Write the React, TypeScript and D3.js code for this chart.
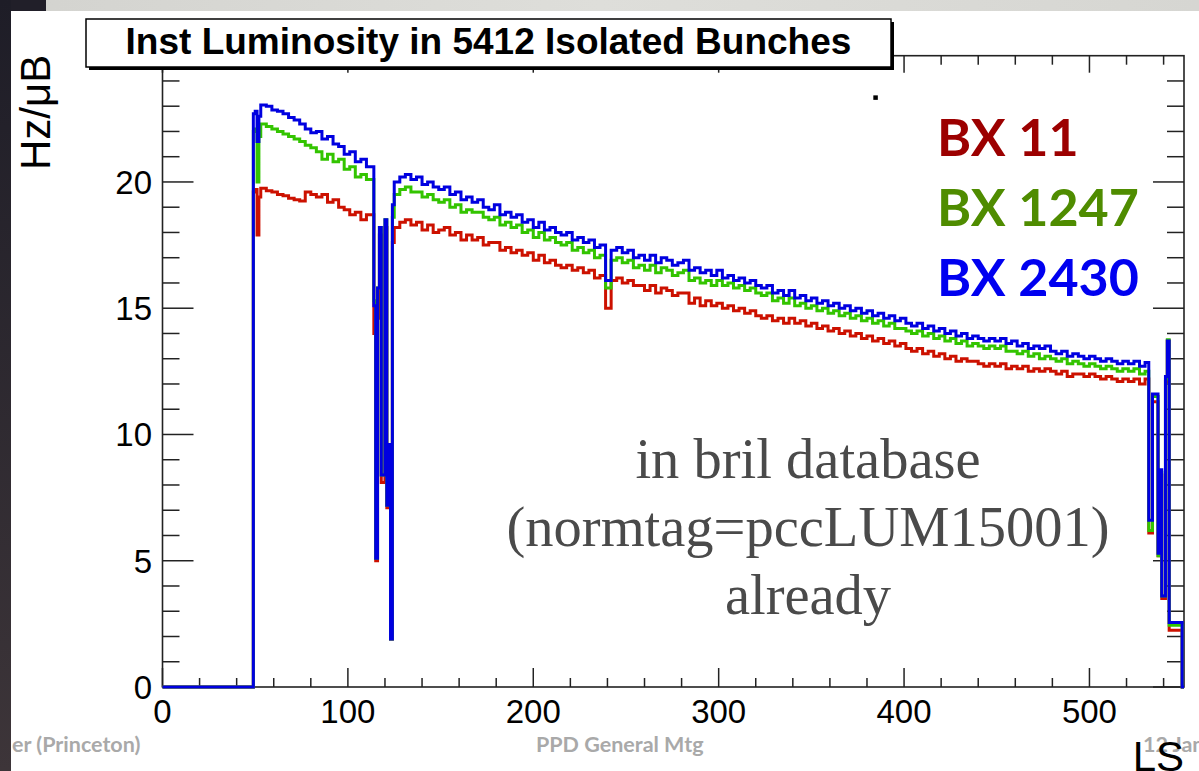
import React from 'react';
import * as d3 from 'd3';

const W = 1199;
const H = 771;

// ---------- data (LS bin left edges & per-bunch inst. luminosity, Hz/µB) ----------
const leadEdges = [0, 49, 50, 51, 52];
const runAEdges = d3.range(53, 111, 3); // 53..110 (last block ends at 114)
const gapEdges = [114, 115, 116, 117, 118, 119, 120, 121, 122, 123, 124];
const mainEdges = d3.range(125, 531, 3); // 125..530 (last block ends at 532)
const endEdges = [532, 534, 537, 538, 539, 541, 542, 543, 550];
const lastEdge = 551;

const blueLead = [0, 22.7, 22.8, 21.6, 22.6];
const greenLead = [0, 22.0, 22.1, 20.0, 21.8];
const redLead = [0, 19.6, 19.7, 17.9, 19.4];

const blueRunA = [23.05, 23.0, 22.85, 22.8, 22.7, 22.55, 22.45, 22.3, 22.1, 21.95, 22.0, 21.7, 21.8, 21.5, 21.4, 21.1, 21.2, 20.8, 20.9, 20.6];
const greenRunA = [22.3, 22.2, 22.1, 22.0, 21.9, 21.8, 21.7, 21.6, 21.45, 21.35, 21.2, 20.9, 21.1, 20.8, 20.9, 20.5, 20.6, 20.2, 20.3, 20.1];
const redRunA = [19.75, 19.65, 19.6, 19.5, 19.45, 19.35, 19.3, 19.25, 19.6, 19.5, 19.4, 19.5, 19.2, 19.3, 19.0, 18.9, 18.7, 18.8, 18.5, 18.7];

const blueGap = [15.1, 5.1, 15.8, 18.2, 8.4, 8.4, 18.5, 7.2, 9.6, 1.9, 19.1];
const greenGap = [15.3, 5.1, 15.8, 18.2, 8.4, 8.4, 18.5, 7.2, 9.6, 1.9, 18.6];
const redGap = [14.0, 5.0, 14.6, 17.9, 8.1, 8.1, 18.2, 7.1, 9.4, 1.9, 17.6];

const blueMain = [
  20.0, 20.2, 20.3, 20.1, 20.2, 19.9, 20.0, 19.8, 19.7, 19.8,
  19.5, 19.6, 19.3, 19.4, 19.2, 19.3, 19.0, 18.9, 19.1, 18.7,
  18.8, 18.6, 18.7, 18.4, 18.5, 18.2, 18.4, 18.1, 18.2, 18.0,
  17.9, 18.0, 17.7, 17.8, 17.6, 17.7, 17.4, 17.5, 16.1, 17.3,
  17.4, 17.2, 17.3, 17.0, 17.1, 16.9, 17.1, 16.8, 17.0, 16.9,
  16.7, 16.8, 16.9, 16.5, 16.6, 16.4, 16.5, 16.3, 16.5, 16.2,
  16.3, 16.1, 16.2, 16.0, 16.1, 15.9, 15.8, 15.9, 15.6, 15.7,
  15.5, 15.7, 15.4, 15.5, 15.3, 15.4, 15.2, 15.3, 15.1, 15.2,
  15.0, 15.1, 14.9, 15.0, 14.8, 14.9, 14.7, 14.8, 14.6, 14.7,
  14.5, 14.6, 14.4, 14.3, 14.4, 14.2, 14.3, 14.1, 14.2, 14.0,
  14.1, 13.9, 14.0, 13.8, 13.9, 13.8, 13.7, 13.8, 13.7, 13.8,
  13.6, 13.7, 13.5, 13.6, 13.4, 13.5, 13.4, 13.5, 13.3, 13.2,
  13.3, 13.1, 13.2, 13.1, 13.0, 13.1, 13.0, 12.9, 13.0, 12.9,
  12.8, 12.9, 12.8, 12.9, 12.7, 12.85,
];
const greenMain = [
  19.5, 19.7, 19.8, 19.6, 19.6, 19.4, 19.5, 19.3, 19.2, 19.3,
  19.0, 19.1, 18.8, 18.9, 18.8, 18.8, 18.6, 18.5, 18.6, 18.3,
  18.4, 18.2, 18.3, 18.0, 18.1, 17.8, 18.0, 17.7, 17.8, 17.6,
  17.5, 17.6, 17.3, 17.4, 17.2, 17.3, 17.0, 17.1, 15.8, 16.9,
  17.0, 16.8, 16.9, 16.6, 16.7, 16.5, 16.7, 16.4, 16.6, 16.5,
  16.3, 16.4, 16.5, 16.1, 16.2, 16.0, 16.1, 15.9, 16.1, 15.9,
  16.0, 15.8, 15.9, 15.7, 15.8, 15.6, 15.5, 15.6, 15.3, 15.4,
  15.2, 15.4, 15.1, 15.2, 15.0, 15.1, 14.9, 15.0, 14.8, 14.9,
  14.7, 14.8, 14.6, 14.7, 14.5, 14.6, 14.4, 14.5, 14.3, 14.4,
  14.2, 14.2, 14.1, 14.0, 14.1, 13.9, 14.0, 13.8, 13.9, 13.7,
  13.8, 13.6, 13.7, 13.5, 13.6, 13.5, 13.4, 13.5, 13.4, 13.5,
  13.3, 13.3, 13.2, 13.3, 13.1, 13.2, 13.0, 13.1, 13.0, 12.9,
  13.0, 12.8, 12.9, 12.8, 12.7, 12.8, 12.7, 12.6, 12.7, 12.6,
  12.5, 12.6, 12.5, 12.6, 12.4, 12.5,
];
const redMain = [
  18.2, 18.4, 18.5, 18.3, 18.4, 18.1, 18.3, 18.0, 18.1, 18.2,
  17.9, 18.0, 17.7, 17.9, 17.7, 17.8, 17.5, 17.6, 17.6, 17.3,
  17.4, 17.2, 17.3, 17.1, 17.2, 16.9, 17.1, 16.8, 16.9, 16.7,
  16.6, 16.7, 16.5, 16.6, 16.4, 16.5, 16.2, 16.3, 15.0, 16.1,
  16.2, 16.0, 16.1, 15.9, 15.9, 15.7, 15.9, 15.6, 15.8, 15.7,
  15.5, 15.6, 15.6, 15.2, 15.4, 15.1, 15.3, 15.1, 15.2, 15.0,
  15.1, 14.9, 15.0, 14.8, 14.9, 14.7, 14.6, 14.7, 14.5, 14.6,
  14.4, 14.6, 14.4, 14.5, 14.3, 14.4, 14.2, 14.3, 14.1, 14.2,
  14.0, 14.1, 13.9, 14.0, 13.8, 13.9, 13.7, 13.8, 13.6, 13.7,
  13.5, 13.6, 13.4, 13.3, 13.4, 13.2, 13.3, 13.1, 13.2, 13.0,
  13.1, 12.9, 13.0, 12.9, 12.9, 12.8, 12.7, 12.8, 12.7, 12.8,
  12.6, 12.7, 12.6, 12.7, 12.5, 12.6, 12.5, 12.6, 12.5, 12.4,
  12.5, 12.3, 12.4, 12.4, 12.3, 12.4, 12.3, 12.2, 12.3, 12.2,
  12.1, 12.2, 12.1, 12.2, 12.0, 12.2,
];

const blueEnd = [6.6, 11.6, 5.3, 8.6, 3.6, 12.3, 13.7, 2.55, 0];
const greenEnd = [6.2, 11.5, 5.2, 8.5, 3.6, 12.2, 13.75, 2.45, 0];
const redEnd = [6.1, 11.3, 5.2, 8.4, 3.5, 12.1, 13.7, 2.25, 0];

const strayMarker = { ls: 384.5, value: 23.35 };

const xMajorTicks = [0, 100, 200, 300, 400, 500];
const xTickLabels = ['0', '100', '200', '300', '400', '500'];
const yMajorTicks = [0, 5, 10, 15, 20];
const yTickLabels = ['0', '5', '10', '15', '20'];

const seriesNames = ['BX 11', 'BX 1247', 'BX 2430'];
const seriesLineColors = ['#cc1100', '#33c400', '#0000e0'];
const seriesTextColors = ['#9c0000', '#4f8c00', '#0000f0'];

const titleText = 'Inst Luminosity in 5412 Isolated Bunches';
const noteLines = ['in bril database', '(normtag=pccLUM15001)', 'already'];

export default function App() {
  const edges = [...leadEdges, ...runAEdges, ...gapEdges, ...mainEdges, ...endEdges, lastEdge];
  const series = [
    [...redLead, ...redRunA, ...redGap, ...redMain, ...redEnd],
    [...greenLead, ...greenRunA, ...greenGap, ...greenMain, ...greenEnd],
    [...blueLead, ...blueRunA, ...blueGap, ...blueMain, ...blueEnd],
  ];

  const x = d3.scaleLinear().domain([0, 551]).range([162.5, 1184]);
  const y = d3.scaleLinear().domain([0, 25]).range([687, 55.7]);
  const [xl, xr] = x.range();
  const [yb, yt] = y.range();

  const line = d3
    .line<[number, number]>()
    .x((d) => x(d[0]))
    .y((d) => y(d[1]))
    .curve(d3.curveStepAfter);

  const paths = series.map((vals) => {
    const pts: [number, number][] = vals.map((v, i) => [edges[i], v]);
    pts.push([edges[vals.length], vals[vals.length - 1]]);
    return line(pts) || '';
  });

  const xMinor = d3.range(0, 552, 20).filter((v) => v % 100 !== 0);
  const yMinor = d3.range(0, 26, 1).filter((v) => v % 5 !== 0);

  const axisColor = '#222';
  const sans = '"Liberation Sans", Arial, Helvetica, sans-serif';
  const calibriLike = 'Lato, "Open Sans", sans-serif';

  return (
    <div style={{ position: 'absolute', left: 0, top: 0, width: W, height: H, overflow: 'hidden' }}>
      <svg width={W} height={H} viewBox={`0 0 ${W} ${H}`} style={{ display: 'block' }}>
        <defs>
          <linearGradient id="leftStrip" x1="0" y1="0" x2="0" y2="1">
            <stop offset="0" stopColor="#1e1d27" />
            <stop offset="1" stopColor="#3d3539" />
          </linearGradient>
          <linearGradient id="topBand" x1="0" y1="0" x2="1" y2="0">
            <stop offset="0" stopColor="#d3d3cf" />
            <stop offset="0.5" stopColor="#dededa" />
            <stop offset="1" stopColor="#d6d6d2" />
          </linearGradient>
        </defs>
        <rect x={0} y={0} width={W} height={H} fill="#ffffff" />
        <rect x={0} y={0} width={W} height={11} fill="url(#topBand)" />
        <rect x={0} y={0} width={46} height={11} fill="#211f29" />
        <rect x={0} y={0} width={11} height={H} fill="url(#leftStrip)" />

        {/* footer of slide */}
        <g fontFamily={calibriLike} fontWeight={700} fontSize={21.5} fill="#a9a9a9">
          <text x={12} y={752}>er (Princeton)</text>
          <text x={536} y={752}>PPD General Mtg</text>
          <text x={1143} y={752}>12 Jan</text>
        </g>

        {/* frame */}
        <rect x={xl} y={yt} width={xr - xl} height={yb - yt} fill="none" stroke={axisColor} strokeWidth={1.6} />

        {/* x ticks bottom & top */}
        {xMajorTicks.map((v) => (
          <g key={'xM' + v}>
            <line x1={x(v)} x2={x(v)} y1={yb} y2={yb - 19} stroke={axisColor} strokeWidth={1.5} />
            <line x1={x(v)} x2={x(v)} y1={yt} y2={yt + 17} stroke={axisColor} strokeWidth={1.5} />
          </g>
        ))}
        {xMinor.map((v) => (
          <g key={'xm' + v}>
            <line x1={x(v)} x2={x(v)} y1={yb} y2={yb - 9} stroke={axisColor} strokeWidth={1.5} />
            <line x1={x(v)} x2={x(v)} y1={yt} y2={yt + 9} stroke={axisColor} strokeWidth={1.5} />
          </g>
        ))}
        {/* y ticks left & right */}
        {yMajorTicks.map((v) => (
          <g key={'yM' + v}>
            <line x1={xl} x2={xl + 31} y1={y(v)} y2={y(v)} stroke={axisColor} strokeWidth={1.5} />
            <line x1={xr} x2={xr - 31} y1={y(v)} y2={y(v)} stroke={axisColor} strokeWidth={1.5} />
          </g>
        ))}
        {yMinor.map((v) => (
          <g key={'ym' + v}>
            <line x1={xl} x2={xl + 17} y1={y(v)} y2={y(v)} stroke={axisColor} strokeWidth={1.5} />
            <line x1={xr} x2={xr - 17} y1={y(v)} y2={y(v)} stroke={axisColor} strokeWidth={1.5} />
          </g>
        ))}

        {/* tick labels */}
        <g fontFamily={sans} fontSize={33} fill="#000">
          {xMajorTicks.map((v, i) => (
            <text key={'xl' + v} x={x(v)} y={yb + 36} textAnchor="middle">
              {xTickLabels[i]}
            </text>
          ))}
          {yMajorTicks.map((v, i) => (
            <text key={'yl' + v} x={152} y={y(v) + 12} textAnchor="end">
              {yTickLabels[i]}
            </text>
          ))}
        </g>

        {/* histograms */}
        {paths.map((p, i) => (
          <path key={'h' + i} d={p} fill="none" stroke={seriesLineColors[i]} strokeWidth={3} strokeLinejoin="miter" />
        ))}

        {/* stray marker */}
        <rect x={x(strayMarker.ls) - 2} y={y(strayMarker.value) - 2} width={4.5} height={4.5} fill="#000" />

        {/* title box with shadow */}
        <rect x={89} y={22} width={805} height={48} fill="#000" />
        <rect x={86} y={19} width={805} height={48} fill="#fff" stroke="#000" strokeWidth={1.5} />
        <text x={488.5} y={54} textAnchor="middle" fontFamily={sans} fontWeight={700} fontSize={37} fill="#000">
          {titleText}
        </text>

        {/* axis titles */}
        <text transform="translate(50,170) rotate(-90)" fontFamily={sans} fontSize={42} fill="#000">
          Hz/μB
        </text>
        <text x={1184} y={771} textAnchor="end" fontFamily={sans} fontSize={42} fill="#000">
          LS
        </text>

        {/* legend-like labels */}
        <g fontFamily={calibriLike} fontWeight={700} fontSize={52}>
          {seriesNames.map((n, i) => (
            <text key={n} x={937} y={156 + i * 70} fill={seriesTextColors[i]}>
              {n}
            </text>
          ))}
        </g>

        {/* annotation */}
        <g fontFamily='"Liberation Serif", "Times New Roman", serif' fontSize={56.5} fill="#4a4a4a" textAnchor="middle">
          {noteLines.map((t, i) => (
            <text key={t} x={808} y={478 + i * 68}>
              {t}
            </text>
          ))}
        </g>
      </svg>
    </div>
  );
}
